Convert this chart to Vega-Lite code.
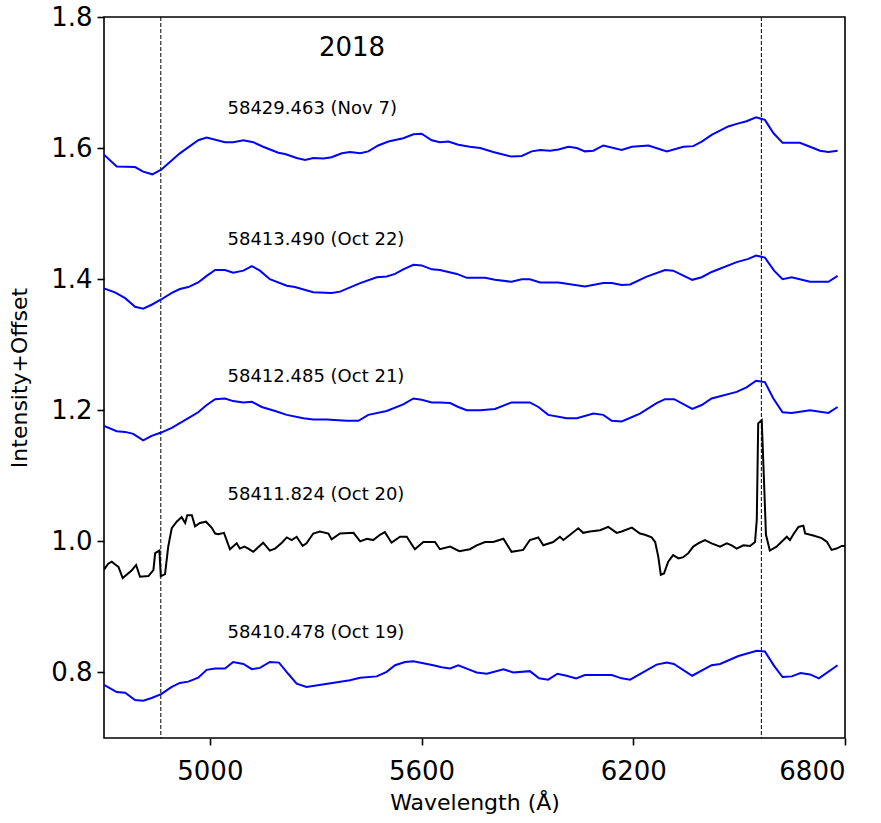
{
  "$schema": "https://vega.github.io/schema/vega-lite/v6.json",
  "autosize": {"type": "none"},
  "padding": {"left": 104, "top": 17, "right": 36, "bottom": 85},
  "width": 741,
  "height": 721,
  "background": "white",
  "config": {
    "font": "DejaVu Sans",
    "view": {"stroke": "#000", "strokeWidth": 1.6},
    "axis": {"grid": false, "domain": false, "tickColor": "#000", "tickWidth": 1.6, "tickSize": 7, "labelColor": "#000", "titleColor": "#000", "labelFont": "DejaVu Sans", "titleFont": "DejaVu Sans", "titleFontWeight": "normal", "labelFontSize": 26, "titleFontSize": 22}
  },
  "datasets": {
    "spectra": [
      {"s":"Nov 7","w":4700,"f":1.590},{"s":"Nov 7","w":4736,"f":1.572},{"s":"Nov 7","w":4788,"f":1.571},{"s":"Nov 7","w":4811,"f":1.564},{"s":"Nov 7","w":4837,"f":1.560},{"s":"Nov 7","w":4862,"f":1.567},{"s":"Nov 7","w":4915,"f":1.592},{"s":"Nov 7","w":4967,"f":1.612},{"s":"Nov 7","w":4991,"f":1.616},{"s":"Nov 7","w":5043,"f":1.609},{"s":"Nov 7","w":5066,"f":1.609},{"s":"Nov 7","w":5095,"f":1.612},{"s":"Nov 7","w":5123,"f":1.609},{"s":"Nov 7","w":5151,"f":1.602},{"s":"Nov 7","w":5194,"f":1.593},{"s":"Nov 7","w":5213,"f":1.591},{"s":"Nov 7","w":5246,"f":1.585},{"s":"Nov 7","w":5270,"f":1.582},{"s":"Nov 7","w":5293,"f":1.585},{"s":"Nov 7","w":5322,"f":1.584},{"s":"Nov 7","w":5345,"f":1.586},{"s":"Nov 7","w":5374,"f":1.592},{"s":"Nov 7","w":5397,"f":1.594},{"s":"Nov 7","w":5426,"f":1.592},{"s":"Nov 7","w":5449,"f":1.595},{"s":"Nov 7","w":5477,"f":1.604},{"s":"Nov 7","w":5506,"f":1.610},{"s":"Nov 7","w":5548,"f":1.615},{"s":"Nov 7","w":5577,"f":1.621},{"s":"Nov 7","w":5600,"f":1.622},{"s":"Nov 7","w":5629,"f":1.612},{"s":"Nov 7","w":5652,"f":1.609},{"s":"Nov 7","w":5676,"f":1.610},{"s":"Nov 7","w":5704,"f":1.605},{"s":"Nov 7","w":5737,"f":1.602},{"s":"Nov 7","w":5766,"f":1.600},{"s":"Nov 7","w":5803,"f":1.594},{"s":"Nov 7","w":5855,"f":1.587},{"s":"Nov 7","w":5884,"f":1.588},{"s":"Nov 7","w":5912,"f":1.595},{"s":"Nov 7","w":5936,"f":1.597},{"s":"Nov 7","w":5964,"f":1.596},{"s":"Nov 7","w":5988,"f":1.598},{"s":"Nov 7","w":6016,"f":1.602},{"s":"Nov 7","w":6040,"f":1.600},{"s":"Nov 7","w":6063,"f":1.595},{"s":"Nov 7","w":6087,"f":1.596},{"s":"Nov 7","w":6115,"f":1.604},{"s":"Nov 7","w":6167,"f":1.597},{"s":"Nov 7","w":6196,"f":1.602},{"s":"Nov 7","w":6243,"f":1.604},{"s":"Nov 7","w":6295,"f":1.595},{"s":"Nov 7","w":6342,"f":1.602},{"s":"Nov 7","w":6370,"f":1.603},{"s":"Nov 7","w":6394,"f":1.610},{"s":"Nov 7","w":6422,"f":1.620},{"s":"Nov 7","w":6469,"f":1.633},{"s":"Nov 7","w":6493,"f":1.637},{"s":"Nov 7","w":6521,"f":1.641},{"s":"Nov 7","w":6548,"f":1.647},{"s":"Nov 7","w":6573,"f":1.643},{"s":"Nov 7","w":6597,"f":1.623},{"s":"Nov 7","w":6623,"f":1.608},{"s":"Nov 7","w":6672,"f":1.608},{"s":"Nov 7","w":6701,"f":1.602},{"s":"Nov 7","w":6729,"f":1.596},{"s":"Nov 7","w":6753,"f":1.594},{"s":"Nov 7","w":6779,"f":1.596},
      {"s":"Oct 22","w":4700,"f":1.386},{"s":"Oct 22","w":4731,"f":1.380},{"s":"Oct 22","w":4760,"f":1.371},{"s":"Oct 22","w":4788,"f":1.358},{"s":"Oct 22","w":4811,"f":1.355},{"s":"Oct 22","w":4835,"f":1.361},{"s":"Oct 22","w":4862,"f":1.369},{"s":"Oct 22","w":4892,"f":1.379},{"s":"Oct 22","w":4915,"f":1.385},{"s":"Oct 22","w":4939,"f":1.388},{"s":"Oct 22","w":4967,"f":1.395},{"s":"Oct 22","w":4991,"f":1.405},{"s":"Oct 22","w":5015,"f":1.414},{"s":"Oct 22","w":5043,"f":1.414},{"s":"Oct 22","w":5066,"f":1.410},{"s":"Oct 22","w":5095,"f":1.413},{"s":"Oct 22","w":5119,"f":1.420},{"s":"Oct 22","w":5142,"f":1.413},{"s":"Oct 22","w":5170,"f":1.400},{"s":"Oct 22","w":5218,"f":1.390},{"s":"Oct 22","w":5241,"f":1.388},{"s":"Oct 22","w":5293,"f":1.380},{"s":"Oct 22","w":5345,"f":1.379},{"s":"Oct 22","w":5369,"f":1.381},{"s":"Oct 22","w":5426,"f":1.394},{"s":"Oct 22","w":5473,"f":1.403},{"s":"Oct 22","w":5501,"f":1.404},{"s":"Oct 22","w":5525,"f":1.408},{"s":"Oct 22","w":5548,"f":1.415},{"s":"Oct 22","w":5577,"f":1.422},{"s":"Oct 22","w":5600,"f":1.421},{"s":"Oct 22","w":5629,"f":1.415},{"s":"Oct 22","w":5652,"f":1.414},{"s":"Oct 22","w":5700,"f":1.408},{"s":"Oct 22","w":5728,"f":1.402},{"s":"Oct 22","w":5766,"f":1.402},{"s":"Oct 22","w":5780,"f":1.402},{"s":"Oct 22","w":5808,"f":1.399},{"s":"Oct 22","w":5855,"f":1.396},{"s":"Oct 22","w":5884,"f":1.400},{"s":"Oct 22","w":5907,"f":1.400},{"s":"Oct 22","w":5936,"f":1.395},{"s":"Oct 22","w":5988,"f":1.395},{"s":"Oct 22","w":6063,"f":1.389},{"s":"Oct 22","w":6115,"f":1.394},{"s":"Oct 22","w":6139,"f":1.394},{"s":"Oct 22","w":6167,"f":1.391},{"s":"Oct 22","w":6191,"f":1.392},{"s":"Oct 22","w":6238,"f":1.404},{"s":"Oct 22","w":6290,"f":1.414},{"s":"Oct 22","w":6313,"f":1.413},{"s":"Oct 22","w":6367,"f":1.399},{"s":"Oct 22","w":6394,"f":1.403},{"s":"Oct 22","w":6422,"f":1.411},{"s":"Oct 22","w":6493,"f":1.426},{"s":"Oct 22","w":6526,"f":1.431},{"s":"Oct 22","w":6548,"f":1.436},{"s":"Oct 22","w":6573,"f":1.433},{"s":"Oct 22","w":6599,"f":1.413},{"s":"Oct 22","w":6623,"f":1.400},{"s":"Oct 22","w":6649,"f":1.403},{"s":"Oct 22","w":6701,"f":1.396},{"s":"Oct 22","w":6753,"f":1.396},{"s":"Oct 22","w":6779,"f":1.405},
      {"s":"Oct 21","w":4700,"f":1.176},{"s":"Oct 21","w":4736,"f":1.168},{"s":"Oct 21","w":4760,"f":1.167},{"s":"Oct 21","w":4783,"f":1.164},{"s":"Oct 21","w":4811,"f":1.154},{"s":"Oct 21","w":4835,"f":1.161},{"s":"Oct 21","w":4862,"f":1.166},{"s":"Oct 21","w":4892,"f":1.173},{"s":"Oct 21","w":4939,"f":1.188},{"s":"Oct 21","w":4967,"f":1.197},{"s":"Oct 21","w":4991,"f":1.208},{"s":"Oct 21","w":5015,"f":1.217},{"s":"Oct 21","w":5043,"f":1.218},{"s":"Oct 21","w":5066,"f":1.214},{"s":"Oct 21","w":5095,"f":1.212},{"s":"Oct 21","w":5119,"f":1.213},{"s":"Oct 21","w":5147,"f":1.205},{"s":"Oct 21","w":5185,"f":1.199},{"s":"Oct 21","w":5218,"f":1.193},{"s":"Oct 21","w":5265,"f":1.188},{"s":"Oct 21","w":5293,"f":1.186},{"s":"Oct 21","w":5331,"f":1.186},{"s":"Oct 21","w":5388,"f":1.184},{"s":"Oct 21","w":5421,"f":1.184},{"s":"Oct 21","w":5449,"f":1.193},{"s":"Oct 21","w":5501,"f":1.199},{"s":"Oct 21","w":5548,"f":1.209},{"s":"Oct 21","w":5577,"f":1.218},{"s":"Oct 21","w":5600,"f":1.216},{"s":"Oct 21","w":5629,"f":1.212},{"s":"Oct 21","w":5652,"f":1.212},{"s":"Oct 21","w":5681,"f":1.211},{"s":"Oct 21","w":5704,"f":1.205},{"s":"Oct 21","w":5728,"f":1.200},{"s":"Oct 21","w":5766,"f":1.200},{"s":"Oct 21","w":5808,"f":1.202},{"s":"Oct 21","w":5855,"f":1.212},{"s":"Oct 21","w":5907,"f":1.212},{"s":"Oct 21","w":5931,"f":1.205},{"s":"Oct 21","w":5959,"f":1.193},{"s":"Oct 21","w":6011,"f":1.188},{"s":"Oct 21","w":6040,"f":1.188},{"s":"Oct 21","w":6087,"f":1.195},{"s":"Oct 21","w":6115,"f":1.193},{"s":"Oct 21","w":6139,"f":1.184},{"s":"Oct 21","w":6167,"f":1.183},{"s":"Oct 21","w":6219,"f":1.195},{"s":"Oct 21","w":6266,"f":1.211},{"s":"Oct 21","w":6290,"f":1.217},{"s":"Oct 21","w":6316,"f":1.217},{"s":"Oct 21","w":6367,"f":1.202},{"s":"Oct 21","w":6394,"f":1.208},{"s":"Oct 21","w":6422,"f":1.218},{"s":"Oct 21","w":6493,"f":1.228},{"s":"Oct 21","w":6521,"f":1.235},{"s":"Oct 21","w":6548,"f":1.245},{"s":"Oct 21","w":6573,"f":1.243},{"s":"Oct 21","w":6597,"f":1.218},{"s":"Oct 21","w":6623,"f":1.197},{"s":"Oct 21","w":6649,"f":1.196},{"s":"Oct 21","w":6701,"f":1.200},{"s":"Oct 21","w":6753,"f":1.196},{"s":"Oct 21","w":6779,"f":1.205},
      {"s":"Oct 20","w":4700,"f":0.957},{"s":"Oct 20","w":4712,"f":0.966},{"s":"Oct 20","w":4722,"f":0.969},{"s":"Oct 20","w":4731,"f":0.965},{"s":"Oct 20","w":4741,"f":0.961},{"s":"Oct 20","w":4753,"f":0.944},{"s":"Oct 20","w":4764,"f":0.949},{"s":"Oct 20","w":4779,"f":0.956},{"s":"Oct 20","w":4791,"f":0.964},{"s":"Oct 20","w":4802,"f":0.946},{"s":"Oct 20","w":4826,"f":0.947},{"s":"Oct 20","w":4840,"f":0.956},{"s":"Oct 20","w":4845,"f":0.982},{"s":"Oct 20","w":4857,"f":0.986},{"s":"Oct 20","w":4861,"f":0.947},{"s":"Oct 20","w":4873,"f":0.950},{"s":"Oct 20","w":4882,"f":0.992},{"s":"Oct 20","w":4892,"f":1.020},{"s":"Oct 20","w":4906,"f":1.030},{"s":"Oct 20","w":4920,"f":1.037},{"s":"Oct 20","w":4930,"f":1.028},{"s":"Oct 20","w":4936,"f":1.040},{"s":"Oct 20","w":4949,"f":1.040},{"s":"Oct 20","w":4958,"f":1.023},{"s":"Oct 20","w":4972,"f":1.028},{"s":"Oct 20","w":4989,"f":1.030},{"s":"Oct 20","w":5005,"f":1.021},{"s":"Oct 20","w":5015,"f":1.012},{"s":"Oct 20","w":5024,"f":1.011},{"s":"Oct 20","w":5040,"f":1.013},{"s":"Oct 20","w":5057,"f":0.988},{"s":"Oct 20","w":5076,"f":0.997},{"s":"Oct 20","w":5085,"f":0.989},{"s":"Oct 20","w":5098,"f":0.992},{"s":"Oct 20","w":5109,"f":0.989},{"s":"Oct 20","w":5123,"f":0.984},{"s":"Oct 20","w":5151,"f":0.998},{"s":"Oct 20","w":5170,"f":0.986},{"s":"Oct 20","w":5185,"f":0.989},{"s":"Oct 20","w":5204,"f":0.998},{"s":"Oct 20","w":5218,"f":1.006},{"s":"Oct 20","w":5232,"f":1.002},{"s":"Oct 20","w":5246,"f":1.007},{"s":"Oct 20","w":5263,"f":0.993},{"s":"Oct 20","w":5274,"f":0.997},{"s":"Oct 20","w":5293,"f":1.012},{"s":"Oct 20","w":5312,"f":1.015},{"s":"Oct 20","w":5336,"f":1.012},{"s":"Oct 20","w":5345,"f":1.003},{"s":"Oct 20","w":5369,"f":1.012},{"s":"Oct 20","w":5407,"f":1.013},{"s":"Oct 20","w":5426,"f":1.000},{"s":"Oct 20","w":5445,"f":1.004},{"s":"Oct 20","w":5463,"f":1.002},{"s":"Oct 20","w":5482,"f":1.010},{"s":"Oct 20","w":5496,"f":1.014},{"s":"Oct 20","w":5515,"f":0.998},{"s":"Oct 20","w":5539,"f":1.007},{"s":"Oct 20","w":5558,"f":1.007},{"s":"Oct 20","w":5581,"f":0.988},{"s":"Oct 20","w":5605,"f":0.999},{"s":"Oct 20","w":5638,"f":0.999},{"s":"Oct 20","w":5652,"f":0.988},{"s":"Oct 20","w":5681,"f":0.992},{"s":"Oct 20","w":5707,"f":0.985},{"s":"Oct 20","w":5737,"f":0.988},{"s":"Oct 20","w":5756,"f":0.994},{"s":"Oct 20","w":5780,"f":0.999},{"s":"Oct 20","w":5803,"f":0.999},{"s":"Oct 20","w":5832,"f":1.004},{"s":"Oct 20","w":5855,"f":0.984},{"s":"Oct 20","w":5888,"f":0.987},{"s":"Oct 20","w":5907,"f":1.002},{"s":"Oct 20","w":5931,"f":1.006},{"s":"Oct 20","w":5945,"f":0.994},{"s":"Oct 20","w":5973,"f":0.999},{"s":"Oct 20","w":5992,"f":1.007},{"s":"Oct 20","w":6002,"f":1.002},{"s":"Oct 20","w":6021,"f":1.010},{"s":"Oct 20","w":6044,"f":1.020},{"s":"Oct 20","w":6058,"f":1.013},{"s":"Oct 20","w":6077,"f":1.015},{"s":"Oct 20","w":6106,"f":1.017},{"s":"Oct 20","w":6129,"f":1.022},{"s":"Oct 20","w":6153,"f":1.013},{"s":"Oct 20","w":6167,"f":1.015},{"s":"Oct 20","w":6196,"f":1.021},{"s":"Oct 20","w":6219,"f":1.012},{"s":"Oct 20","w":6233,"f":1.010},{"s":"Oct 20","w":6252,"f":1.006},{"s":"Oct 20","w":6262,"f":0.999},{"s":"Oct 20","w":6271,"f":0.976},{"s":"Oct 20","w":6278,"f":0.949},{"s":"Oct 20","w":6287,"f":0.951},{"s":"Oct 20","w":6299,"f":0.969},{"s":"Oct 20","w":6313,"f":0.979},{"s":"Oct 20","w":6328,"f":0.974},{"s":"Oct 20","w":6342,"f":0.976},{"s":"Oct 20","w":6356,"f":0.982},{"s":"Oct 20","w":6370,"f":0.992},{"s":"Oct 20","w":6384,"f":0.997},{"s":"Oct 20","w":6403,"f":1.002},{"s":"Oct 20","w":6422,"f":0.997},{"s":"Oct 20","w":6446,"f":0.992},{"s":"Oct 20","w":6465,"f":0.997},{"s":"Oct 20","w":6479,"f":0.994},{"s":"Oct 20","w":6493,"f":0.989},{"s":"Oct 20","w":6512,"f":0.994},{"s":"Oct 20","w":6531,"f":0.993},{"s":"Oct 20","w":6545,"f":0.999},{"s":"Oct 20","w":6550,"f":1.033},{"s":"Oct 20","w":6554,"f":1.180},{"s":"Oct 20","w":6564,"f":1.185},{"s":"Oct 20","w":6570,"f":1.099},{"s":"Oct 20","w":6576,"f":1.010},{"s":"Oct 20","w":6587,"f":0.986},{"s":"Oct 20","w":6606,"f":0.992},{"s":"Oct 20","w":6635,"f":1.007},{"s":"Oct 20","w":6644,"f":1.002},{"s":"Oct 20","w":6653,"f":1.010},{"s":"Oct 20","w":6668,"f":1.022},{"s":"Oct 20","w":6682,"f":1.024},{"s":"Oct 20","w":6687,"f":1.012},{"s":"Oct 20","w":6710,"f":1.009},{"s":"Oct 20","w":6734,"f":1.005},{"s":"Oct 20","w":6749,"f":0.999},{"s":"Oct 20","w":6762,"f":0.987},{"s":"Oct 20","w":6776,"f":0.989},{"s":"Oct 20","w":6791,"f":0.993},{"s":"Oct 20","w":6800,"f":0.993},
      {"s":"Oct 19","w":4700,"f":0.781},{"s":"Oct 19","w":4736,"f":0.770},{"s":"Oct 19","w":4760,"f":0.769},{"s":"Oct 19","w":4788,"f":0.758},{"s":"Oct 19","w":4811,"f":0.757},{"s":"Oct 19","w":4835,"f":0.761},{"s":"Oct 19","w":4862,"f":0.767},{"s":"Oct 19","w":4892,"f":0.778},{"s":"Oct 19","w":4915,"f":0.784},{"s":"Oct 19","w":4939,"f":0.786},{"s":"Oct 19","w":4967,"f":0.792},{"s":"Oct 19","w":4991,"f":0.804},{"s":"Oct 19","w":5015,"f":0.806},{"s":"Oct 19","w":5043,"f":0.806},{"s":"Oct 19","w":5066,"f":0.816},{"s":"Oct 19","w":5095,"f":0.813},{"s":"Oct 19","w":5119,"f":0.805},{"s":"Oct 19","w":5142,"f":0.807},{"s":"Oct 19","w":5170,"f":0.816},{"s":"Oct 19","w":5196,"f":0.815},{"s":"Oct 19","w":5222,"f":0.798},{"s":"Oct 19","w":5246,"f":0.783},{"s":"Oct 19","w":5274,"f":0.778},{"s":"Oct 19","w":5397,"f":0.788},{"s":"Oct 19","w":5426,"f":0.792},{"s":"Oct 19","w":5473,"f":0.794},{"s":"Oct 19","w":5501,"f":0.801},{"s":"Oct 19","w":5525,"f":0.811},{"s":"Oct 19","w":5553,"f":0.816},{"s":"Oct 19","w":5577,"f":0.817},{"s":"Oct 19","w":5633,"f":0.811},{"s":"Oct 19","w":5657,"f":0.808},{"s":"Oct 19","w":5681,"f":0.806},{"s":"Oct 19","w":5704,"f":0.811},{"s":"Oct 19","w":5737,"f":0.804},{"s":"Oct 19","w":5756,"f":0.800},{"s":"Oct 19","w":5785,"f":0.798},{"s":"Oct 19","w":5832,"f":0.805},{"s":"Oct 19","w":5860,"f":0.800},{"s":"Oct 19","w":5907,"f":0.802},{"s":"Oct 19","w":5933,"f":0.791},{"s":"Oct 19","w":5959,"f":0.789},{"s":"Oct 19","w":5985,"f":0.798},{"s":"Oct 19","w":6011,"f":0.795},{"s":"Oct 19","w":6038,"f":0.791},{"s":"Oct 19","w":6063,"f":0.796},{"s":"Oct 19","w":6139,"f":0.796},{"s":"Oct 19","w":6167,"f":0.791},{"s":"Oct 19","w":6191,"f":0.789},{"s":"Oct 19","w":6266,"f":0.812},{"s":"Oct 19","w":6295,"f":0.815},{"s":"Oct 19","w":6315,"f":0.813},{"s":"Oct 19","w":6367,"f":0.795},{"s":"Oct 19","w":6422,"f":0.811},{"s":"Oct 19","w":6446,"f":0.813},{"s":"Oct 19","w":6498,"f":0.825},{"s":"Oct 19","w":6550,"f":0.833},{"s":"Oct 19","w":6573,"f":0.832},{"s":"Oct 19","w":6599,"f":0.810},{"s":"Oct 19","w":6623,"f":0.793},{"s":"Oct 19","w":6649,"f":0.794},{"s":"Oct 19","w":6674,"f":0.799},{"s":"Oct 19","w":6701,"f":0.797},{"s":"Oct 19","w":6726,"f":0.791},{"s":"Oct 19","w":6779,"f":0.811}
    ],
    "lines": [{"w": 4861}, {"w": 6563}],
    "labels": [
      {"t": "58429.463 (Nov 7)", "w": 5050, "f": 1.660},
      {"t": "58413.490 (Oct 22)", "w": 5050, "f": 1.460},
      {"t": "58412.485 (Oct 21)", "w": 5050, "f": 1.251},
      {"t": "58411.824 (Oct 20)", "w": 5050, "f": 1.071},
      {"t": "58410.478 (Oct 19)", "w": 5050, "f": 0.860}
    ],
    "year": [{"t": "2018", "w": 5403, "f": 1.753}]
  },
  "layer": [
    {
      "data": {"name": "lines"},
      "mark": {"type": "rule", "color": "#000", "strokeWidth": 1, "strokeDash": [4, 2]},
      "encoding": {
        "x": {"field": "w", "type": "quantitative", "scale": {"domain": [4700, 6800], "nice": false, "zero": false}}
      }
    },
    {
      "data": {"name": "spectra"},
      "mark": {"type": "line", "strokeWidth": 2, "clip": true},
      "encoding": {
        "x": {"field": "w", "type": "quantitative", "title": "Wavelength (Å)", "scale": {"domain": [4700, 6800], "nice": false, "zero": false},
          "axis": {"values": [5000, 5600, 6200, 6800], "format": "d", "labelPadding": 13, "titlePadding": 8}},
        "y": {"field": "f", "type": "quantitative", "title": "Intensity+Offset", "scale": {"domain": [0.7, 1.8], "nice": false, "zero": false},
          "axis": {"values": [0.8, 1.0, 1.2, 1.4, 1.6, 1.8], "format": ".1f", "labelPadding": 5, "titlePadding": 19}},
        "color": {"field": "s", "type": "nominal", "legend": null,
          "scale": {"domain": ["Nov 7", "Oct 22", "Oct 21", "Oct 20", "Oct 19"], "range": ["#0000ff", "#0000ff", "#0000ff", "#000000", "#0000ff"]}},
        "order": {"field": "w", "type": "quantitative"}
      }
    },
    {
      "data": {"name": "labels"},
      "mark": {"type": "text", "align": "left", "baseline": "middle", "fontSize": 18, "font": "DejaVu Sans", "color": "#000"},
      "encoding": {
        "x": {"field": "w", "type": "quantitative"},
        "y": {"field": "f", "type": "quantitative"},
        "text": {"field": "t"}
      }
    },
    {
      "data": {"name": "year"},
      "mark": {"type": "text", "align": "center", "baseline": "middle", "fontSize": 26, "font": "DejaVu Sans", "color": "#000"},
      "encoding": {
        "x": {"field": "w", "type": "quantitative"},
        "y": {"field": "f", "type": "quantitative"},
        "text": {"field": "t"}
      }
    }
  ]
}
